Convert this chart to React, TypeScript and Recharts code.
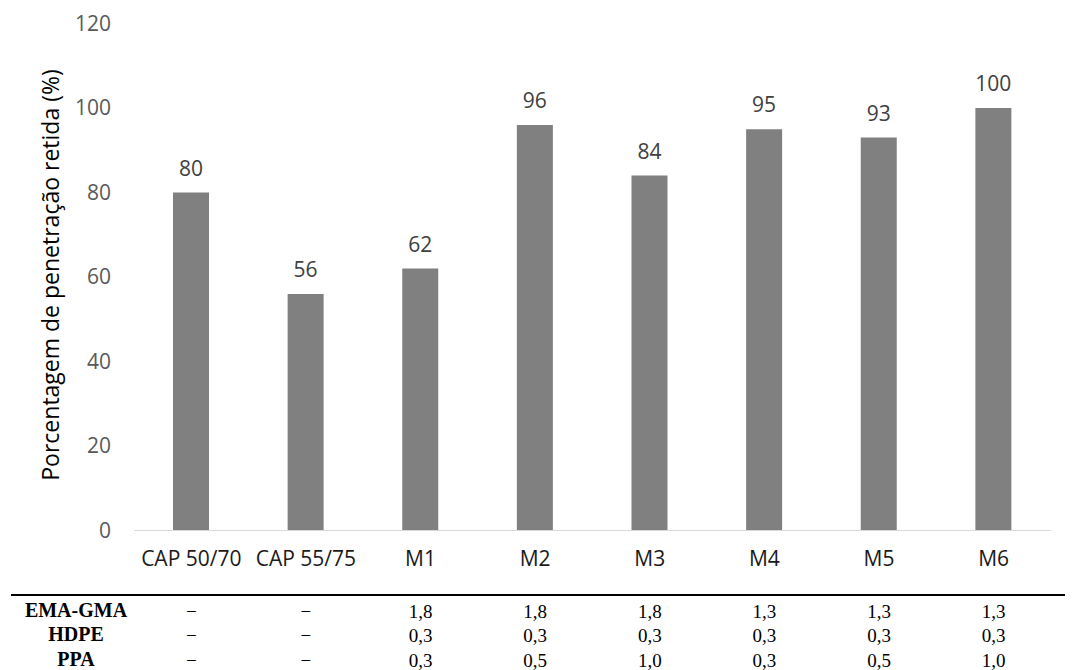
import { Bar, BarChart, LabelList, XAxis, YAxis } from "recharts";

const categories = ["CAP 50/70", "CAP 55/75", "M1", "M2", "M3", "M4", "M5", "M6"];
const retained = [80, 56, 62, 96, 84, 95, 93, 100];
const yTicks = [0, 20, 40, 60, 80, 100, 120];

// composition table under the chart
const rowNames = ["EMA-GMA", "HDPE", "PPA"];
const emaGma = ["−", "−", "1,8", "1,8", "1,8", "1,3", "1,3", "1,3"];
const hdpe = ["−", "−", "0,3", "0,3", "0,3", "0,3", "0,3", "0,3"];
const ppa = ["−", "−", "0,3", "0,5", "1,0", "0,3", "0,5", "1,0"];
const tableRows = [emaGma, hdpe, ppa];

const data = categories.map((name, i) => ({ name, value: retained[i] }));

const SANS = "'Open Sans', sans-serif";
const SERIF = "'Liberation Serif', 'Times New Roman', serif";
const rowBaselines = [617.5, 641.5, 666.5];

const CategoryTick = ({ x, y, payload, index }: any) => (
  <g>
    <text
      x={x}
      y={y}
      dy="0.71em"
      textAnchor="middle"
      fontFamily={SANS}
      fontSize={21}
      fill="#1a1a1a"
    >
      {payload.value}
    </text>
    {tableRows.map((row, r) => (
      <text
        key={r}
        x={x}
        y={rowBaselines[r]}
        textAnchor="middle"
        fontFamily={SERIF}
        fontSize={19}
        fill="#000"
      >
        {row[index]}
      </text>
    ))}
  </g>
);

export default function App() {
  return (
    <div
      style={{
        position: "relative",
        width: 1073,
        height: 670,
        margin: "-8px 0 0 -8px",
        background: "#fff",
      }}
    >
      <BarChart
        width={1073}
        height={670}
        data={data}
        margin={{ top: 23.5, right: 22, left: 0, bottom: 99.5 }}
      >
        <XAxis
          dataKey="name"
          stroke="#d9d9d9"
          tickLine={false}
          tickSize={0}
          tickMargin={21}
          height={40}
          interval={0}
          tick={<CategoryTick />}
        />
        <YAxis
          domain={[0, 120]}
          ticks={yTicks}
          width={134}
          axisLine={false}
          tickLine={false}
          tickSize={0}
          tickMargin={23}
          tick={{ fill: "#595959", fontSize: 21, fontFamily: SANS }}
          label={() => (
            <text
              x={50}
              y={275}
              transform="rotate(-90 50 275)"
              textAnchor="middle"
              dominantBaseline="central"
              fontFamily={SANS}
              fontSize={23}
              fill="#000"
            >
              Porcentagem de penetração retida (%)
            </text>
          )}
        />
        <Bar dataKey="value" fill="#808080" barSize={36} isAnimationActive={false}>
          <LabelList
            dataKey="value"
            position="top"
            offset={17}
            fill="#404040"
            fontSize={21}
            fontFamily={SANS}
          />
        </Bar>
      </BarChart>
      {/* table rule and row headers */}
      <div
        style={{
          position: "absolute",
          left: 11,
          top: 594,
          width: 1060,
          height: 2,
          background: "#000",
        }}
      />
      {rowNames.map((name, r) => (
        <div
          key={name}
          style={{
            position: "absolute",
            left: 0,
            width: 152,
            top: rowBaselines[r] - 19,
            textAlign: "center",
            fontFamily: SERIF,
            fontWeight: "bold",
            fontSize: 20,
            lineHeight: "23px",
            color: "#000",
          }}
        >
          {name}
        </div>
      ))}
    </div>
  );
}
